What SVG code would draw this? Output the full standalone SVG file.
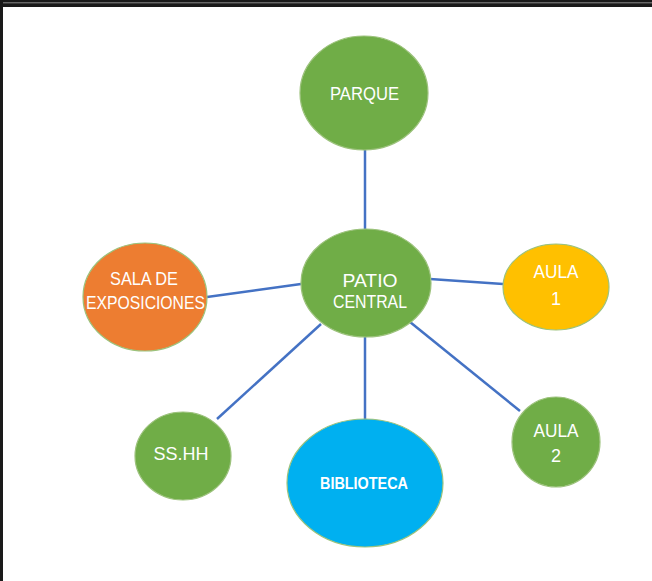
<svg xmlns="http://www.w3.org/2000/svg" width="652" height="581" viewBox="0 0 652 581">
  <style>
    .node { stroke: #9CC27C; stroke-width: 1.2; }
    .green { fill: #70AD47; }
    .orange { fill: #ED7D31; }
    .yellow { fill: #FFC000; }
    .blue { fill: #00B0F0; }
    .lbl { font-family: "Liberation Sans", Arial, sans-serif; font-size: 18px; fill: #FFFFFF; text-anchor: middle; }
    .bold { font-weight: bold; font-size: 17px; }
    .conn line { stroke: #4472C4; stroke-width: 2.5; }
  </style>
  <rect x="0" y="0" width="652" height="581" fill="#FFFFFF"/>
  <!-- frame -->
  <rect x="0" y="0" width="652" height="7" fill="#1A1A1A"/>
  <rect x="0" y="2.3" width="652" height="1" fill="#8A8A8A"/>
  <rect x="0" y="0" width="3" height="581" fill="#1A1A1A"/>

  <g id="connectors" class="conn">
    <line x1="365" y1="137" x2="365" y2="229"/>
    <line x1="301" y1="284" x2="207" y2="297"/>
    <line x1="430" y1="279" x2="503" y2="284"/>
    <line x1="321" y1="324" x2="217" y2="419"/>
    <line x1="365" y1="337" x2="365" y2="420"/>
    <line x1="410" y1="322" x2="520" y2="411"/>
  </g>

  <g id="parque">
    <ellipse class="node green" cx="364" cy="93" rx="64" ry="57"/>
    <text class="lbl" x="364.5" y="100" textLength="69" lengthAdjust="spacingAndGlyphs">PARQUE</text>
  </g>
  <g id="patio-central">
    <ellipse class="node green" cx="366" cy="283" rx="65" ry="54"/>
    <text class="lbl" x="370" y="287" textLength="55" lengthAdjust="spacingAndGlyphs">PATIO</text>
    <text class="lbl" x="370" y="308" textLength="74" lengthAdjust="spacingAndGlyphs">CENTRAL</text>
  </g>
  <g id="sala-exposiciones">
    <ellipse class="node orange" cx="145" cy="297" rx="62" ry="54"/>
    <text class="lbl" x="144" y="285" textLength="68" lengthAdjust="spacingAndGlyphs">SALA DE</text>
    <text class="lbl" x="145.5" y="309" textLength="119" lengthAdjust="spacingAndGlyphs">EXPOSICIONES</text>
  </g>
  <g id="aula-1">
    <ellipse class="node yellow" cx="556" cy="287" rx="53" ry="43"/>
    <text class="lbl" x="556" y="278" textLength="45" lengthAdjust="spacingAndGlyphs">AULA</text>
    <text class="lbl" x="556" y="305">1</text>
  </g>
  <g id="sshh">
    <ellipse class="node green" cx="183" cy="456" rx="48" ry="44"/>
    <text class="lbl" x="181" y="460" textLength="55" lengthAdjust="spacingAndGlyphs">SS.HH</text>
  </g>
  <g id="biblioteca">
    <ellipse class="node blue" cx="365" cy="483" rx="78" ry="64"/>
    <text class="lbl bold" x="364" y="489" textLength="88" lengthAdjust="spacingAndGlyphs">BIBLIOTECA</text>
  </g>
  <g id="aula-2">
    <ellipse class="node green" cx="556" cy="442" rx="44" ry="45"/>
    <text class="lbl" x="556" y="437" textLength="45" lengthAdjust="spacingAndGlyphs">AULA</text>
    <text class="lbl" x="556" y="462">2</text>
  </g>
</svg>
